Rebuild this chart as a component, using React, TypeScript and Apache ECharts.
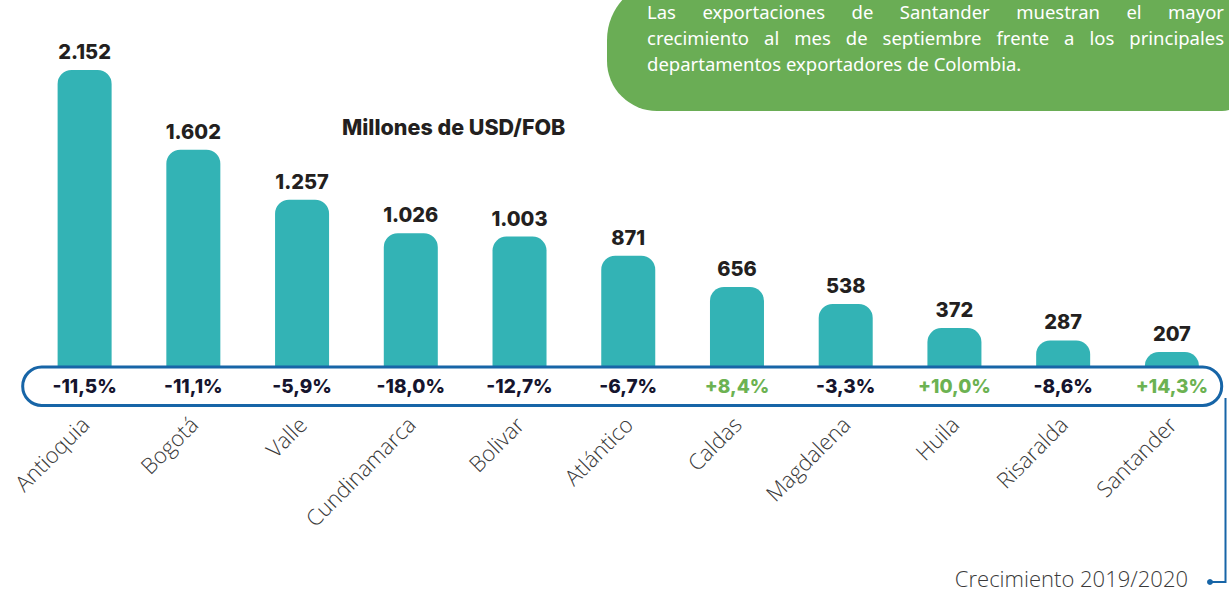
import React, { useEffect, useRef } from "react";
import * as echarts from "echarts";

const categories = ["Antioquia", "Bogotá", "Valle", "Cundinamarca", "Bolivar", "Atlántico", "Caldas", "Magdalena", "Huila", "Risaralda", "Santander"];
const exportsValues = [2152, 1602, 1257, 1026, 1003, 871, 656, 538, 372, 287, 207];
const growth = [-11.5, -11.1, -5.9, -18.0, -12.7, -6.7, 8.4, -3.3, 10.0, -8.6, 14.3];

const unitTitle = "Millones de USD/FOB";
const growthTitle = "Crecimiento 2019/2020";
const noteLines = [
  "Las exportaciones de Santander muestran el mayor",
  "crecimiento al mes de septiembre frente a los principales",
  "departamentos exportadores de Colombia.",
];

const GROWTH_ROW = -31; // value-axis position of the growth row (below zero baseline)

function fmtThousands(v: number): string {
  if (v < 1000) return String(v);
  const th = Math.floor(v / 1000);
  const rest = String(v % 1000).padStart(3, "0");
  return th + "." + rest;
}
function fmtGrowth(g: number): string {
  return (g > 0 ? "+" : "") + g.toFixed(1).replace(".", ",") + "%";
}

function justifiedLine(text: string, x0: number, x1: number, y: number, size: number, family: string, justify: boolean) {
  if (!justify) {
    return [{ type: "text", x: x0, y, z: 31, silent: true, style: { text, fill: "#ffffff", fontSize: size, fontFamily: family, verticalAlign: "middle", align: "left" } }];
  }
  const canvas = document.createElement("canvas");
  const ctx = canvas.getContext("2d")!;
  ctx.font = `${size}px ${family}`;
  const words = text.split(" ");
  const widths = words.map((w) => ctx.measureText(w).width);
  const total = widths.reduce((a, b) => a + b, 0);
  const gap = (x1 - x0 - total) / (words.length - 1);
  let x = x0;
  return words.map((w, i) => {
    const el = { type: "text", x, y, z: 31, silent: true, style: { text: w, fill: "#ffffff", fontSize: size, fontFamily: family, verticalAlign: "middle", align: "left" } };
    x += widths[i] + gap;
    return el;
  });
}

export default function App() {
  const ref = useRef<HTMLDivElement>(null);
  useEffect(() => {
    if (!ref.current) return;
    const chart = echarts.init(ref.current, null, { renderer: "svg" });
    const noteFamily = '"Noto Sans", sans-serif';
    const noteSize = 18.5;
    const noteEls: any[] = [
      ...justifiedLine(noteLines[0], 647, 1224, 11, noteSize, noteFamily, true),
      ...justifiedLine(noteLines[1], 647, 1224, 37, noteSize, noteFamily, true),
      ...justifiedLine(noteLines[2], 647, 1224, 63, noteSize, noteFamily, false),
    ];
    const option: any = {
      animation: false,
      grid: { left: 30.25, right: 2.75, top: 19.5, bottom: 210, containLabel: false },
      xAxis: {
        type: "category",
        data: categories,
        axisLine: { show: false },
        axisTick: { show: false },
        axisLabel: {
          rotate: 45,
          margin: 38,
          fontSize: 22,
          fontWeight: 300,
          fontFamily: '"Open Sans", sans-serif',
          color: "#3a3a3a",
          interval: 0,
        },
      },
      yAxis: {
        type: "value",
        min: 0,
        max: 2500,
        show: false,
        splitLine: { show: false },
      },
      graphic: [
        {
          type: "rect",
          z: 30,
          silent: true,
          shape: { x: 607, y: -20, width: 640, height: 131, r: [60, 0, 25, 50] },
          style: { fill: "#6aad55" },
        },
        ...noteEls,
        {
          type: "text",
          z: 31,
          silent: true,
          x: 342,
          y: 127,
          style: { text: unitTitle, fill: "#231f20", fontSize: 21.5, fontWeight: 800, fontFamily: "Inter, sans-serif", verticalAlign: "middle", align: "left" },
        },
        {
          type: "rect",
          z: 5,
          silent: true,
          shape: { x: 22.7, y: 367, width: 1199, height: 38.5, r: 19 },
          style: { fill: "#ffffff", stroke: "#1765a7", lineWidth: 3 },
        },
        {
          type: "polyline",
          z: 5,
          silent: true,
          shape: { points: [[1225.5, 398], [1225.5, 582], [1210, 582]] },
          style: { stroke: "#1765a7", lineWidth: 2, fill: null },
        },
        {
          type: "circle",
          z: 5,
          silent: true,
          shape: { cx: 1210, cy: 582, r: 3 },
          style: { fill: "#1765a7" },
        },
        {
          type: "text",
          z: 5,
          silent: true,
          x: 1188,
          y: 578,
          style: { text: growthTitle, fill: "#3a3a3a", fontSize: 22, fontWeight: 300, fontFamily: '"Open Sans", sans-serif', verticalAlign: "middle", align: "right" },
        },
      ],
      series: [
        {
          type: "bar",
          data: exportsValues,
          barWidth: 54,
          z: 2,
          silent: true,
          itemStyle: { color: "#33b3b5", borderRadius: [14, 14, 0, 0] },
          label: {
            show: true,
            position: "top",
            distance: 8,
            formatter: (p: any) => fmtThousands(p.value),
            fontSize: 20,
            fontWeight: 800,
            fontFamily: "Inter, sans-serif",
            color: "#231f20",
          },
        },
        {
          type: "scatter",
          data: growth.map((_, i) => [i, GROWTH_ROW]),
          symbol: "circle",
          symbolSize: 0,
          clip: false,
          z: 10,
          silent: true,
          itemStyle: { color: "#ffffff", opacity: 1 },
          label: {
            show: true,
            position: "inside",
            fontSize: 19,
            fontWeight: 800,
            fontFamily: "Inter, sans-serif",
            textBorderWidth: 0,
            textBorderColor: "transparent",
            opacity: 1,
            color: "#16152e",
            formatter: (p: any) => {
              const g = growth[p.dataIndex];
              return g > 0 ? `{pos|${fmtGrowth(g)}}` : `{neg|${fmtGrowth(g)}}`;
            },
            rich: {
              pos: { color: "#6cb252", fontSize: 19, fontWeight: 800, fontFamily: "Inter, sans-serif", textBorderWidth: 0 },
              neg: { color: "#16152e", fontSize: 19, fontWeight: 800, fontFamily: "Inter, sans-serif", textBorderWidth: 0 },
            },
          },
        },
      ],
    };
    chart.setOption(option);
    return () => chart.dispose();
  }, []);
  return <div ref={ref} style={{ position: "absolute", left: 0, top: 0, width: 1229, height: 592 }} />;
}
